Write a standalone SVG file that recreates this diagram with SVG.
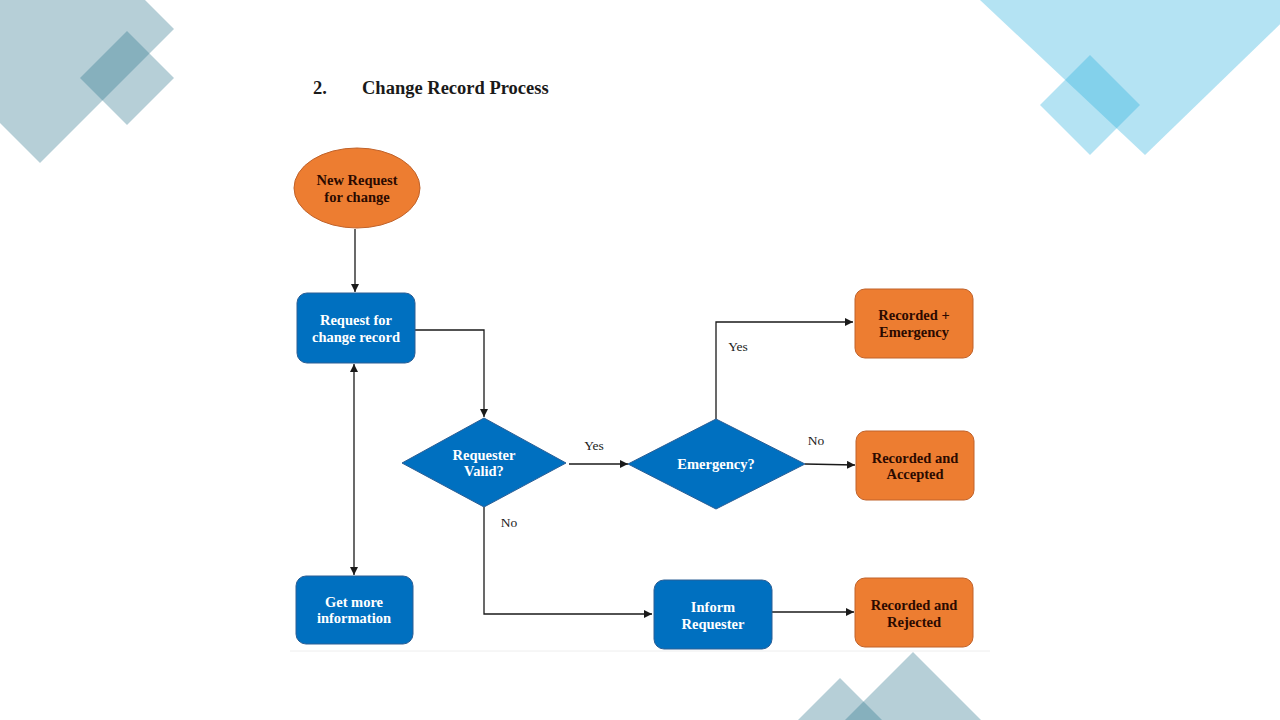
<svg xmlns="http://www.w3.org/2000/svg" width="1280" height="720" viewBox="0 0 1280 720">
<defs>
<style>
.deco1{fill:rgb(47,118,140);fill-opacity:0.35}
.deco2{fill:rgb(40,175,220);fill-opacity:0.35}
.blue{fill:#0070c0;stroke:#2a5e95;stroke-width:1}
.orange{fill:#ed7d31;stroke:#c0622a;stroke-width:1}
.tw{font-family:"Liberation Serif",serif;font-weight:bold;font-size:14.5px;fill:#ffffff;text-anchor:middle}
.td{font-family:"Liberation Serif",serif;font-weight:bold;font-size:14.5px;fill:#2b0a00;text-anchor:middle}
.lbl{font-family:"Liberation Serif",serif;font-size:13.5px;fill:#222222;text-anchor:middle}
.title{font-family:"Liberation Serif",serif;font-weight:bold;font-size:18.5px;fill:#1a1a1a}
.conn{fill:none;stroke:#1a1a1a;stroke-width:1.3}
</style>
<marker id="ah" viewBox="0 0 10 10" refX="10" refY="5" markerWidth="8" markerHeight="8" markerUnits="userSpaceOnUse" orient="auto-start-reverse">
<path d="M0,0 L10,5 L0,10 z" fill="#1a1a1a"/>
</marker>
</defs>
<rect x="0" y="0" width="1280" height="720" fill="#ffffff"/>
<g id="decorations">
<polygon class="deco1" points="40,-105 174,29 40,163 -94,29"/>
<polygon class="deco1" points="127,31 174,78 127,125 80,78"/>
<polygon class="deco2" points="980,0 1145,155 1305,0"/>
<polygon class="deco2" points="1090,55 1140,105 1090,155 1040,105"/>
<polygon class="deco1" points="913,652 985,724 841,724"/>
<polygon class="deco1" points="840,678 884,722 796,722"/>
<line x1="290" y1="651" x2="990" y2="651" stroke="#eeeeee" stroke-width="1"/>
</g>
<g id="title">
<text class="title" x="313" y="94">2.</text>
<text class="title" x="362" y="94">Change Record Process</text>
</g>
<g id="connectors">
<line class="conn" x1="355" y1="229" x2="355" y2="292" marker-end="url(#ah)"/>
<polyline class="conn" points="415,330 484,330 484,417" marker-end="url(#ah)"/>
<line class="conn" x1="354" y1="364" x2="354" y2="575" marker-start="url(#ah)" marker-end="url(#ah)"/>
<line class="conn" x1="569" y1="464" x2="628" y2="464" marker-end="url(#ah)"/>
<polyline class="conn" points="716,419 716,322 853,322" marker-end="url(#ah)"/>
<line class="conn" x1="805" y1="464" x2="855" y2="465" marker-end="url(#ah)"/>
<polyline class="conn" points="484,507 484,614 652,614" marker-end="url(#ah)"/>
<line class="conn" x1="772" y1="612" x2="854" y2="612" marker-end="url(#ah)"/>
<text class="lbl" x="594" y="450">Yes</text>
<text class="lbl" x="738" y="351">Yes</text>
<text class="lbl" x="816" y="445">No</text>
<text class="lbl" x="509" y="527">No</text>
</g>
<g id="n-new-request">
<ellipse class="orange" cx="357" cy="188" rx="63" ry="40"/>
<text class="td" x="357" y="185">New Request</text>
<text class="td" x="357" y="202">for change</text>
</g>
<g id="n-request-record">
<rect class="blue" x="297" y="293" width="118" height="70" rx="10"/>
<text class="tw" x="356" y="325">Request for</text>
<text class="tw" x="356" y="342">change record</text>
</g>
<g id="n-requester-valid">
<polygon class="blue" points="484,418 566,463 484,507 402,463"/>
<text class="tw" x="484" y="460">Requester</text>
<text class="tw" x="484" y="476">Valid?</text>
</g>
<g id="n-emergency">
<polygon class="blue" points="716,419 805,464 716,509 628,464"/>
<text class="tw" x="716" y="469">Emergency?</text>
</g>
<g id="n-recorded-emergency">
<rect class="orange" x="855" y="289" width="118" height="69" rx="10"/>
<text class="td" x="914" y="320">Recorded +</text>
<text class="td" x="914" y="337">Emergency</text>
</g>
<g id="n-recorded-accepted">
<rect class="orange" x="856" y="431" width="118" height="69" rx="10"/>
<text class="td" x="915" y="463">Recorded and</text>
<text class="td" x="915" y="479">Accepted</text>
</g>
<g id="n-get-more">
<rect class="blue" x="296" y="576" width="117" height="68" rx="10"/>
<text class="tw" x="354" y="607">Get more</text>
<text class="tw" x="354" y="623">information</text>
</g>
<g id="n-inform">
<rect class="blue" x="654" y="580" width="118" height="69" rx="10"/>
<text class="tw" x="713" y="612">Inform</text>
<text class="tw" x="713" y="629">Requester</text>
</g>
<g id="n-recorded-rejected">
<rect class="orange" x="855" y="578" width="118" height="69" rx="10"/>
<text class="td" x="914" y="610">Recorded and</text>
<text class="td" x="914" y="627">Rejected</text>
</g>
</svg>
